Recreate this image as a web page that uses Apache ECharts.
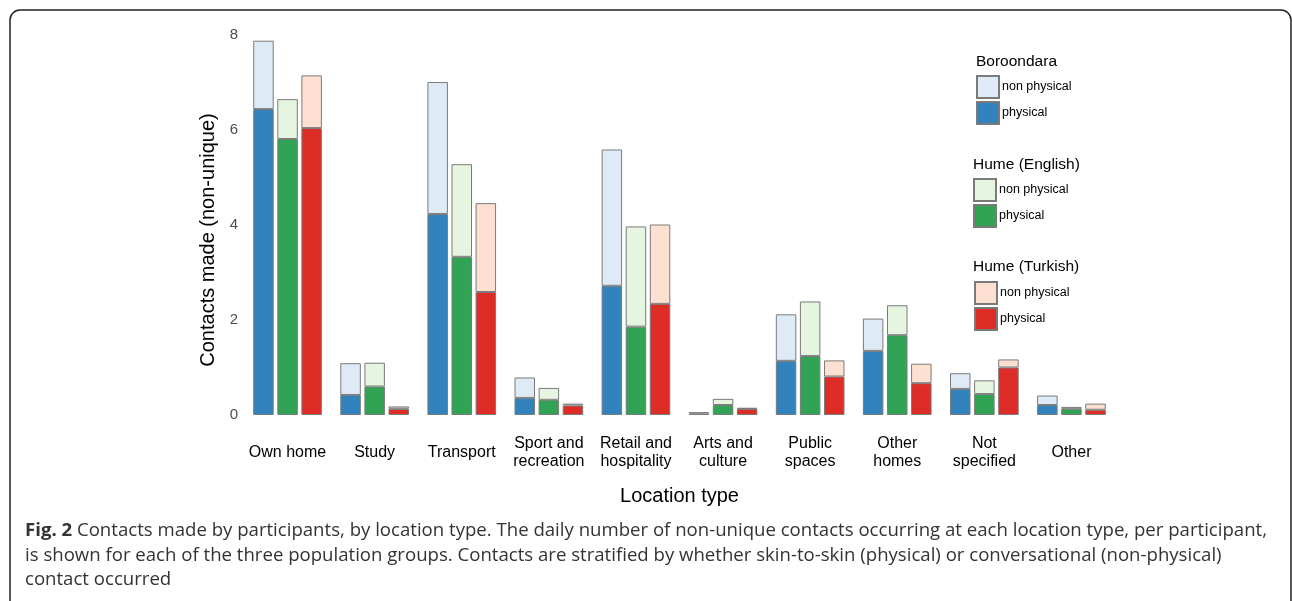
<!DOCTYPE html>
<html>
<head>
<meta charset="utf-8">
<script src="https://cdn.jsdelivr.net/npm/echarts@6/dist/echarts.min.js"></script>
<style>
html,body{margin:0;padding:0;background:#fff;}
#chart{width:1292px;height:601px;}
</style>
</head>
<body>
<div id="chart"></div>
<script>
// ---- data ----
const categories = ['Own home', 'Study', 'Transport', 'Sport and\nrecreation', 'Retail and\nhospitality',
  'Arts and\nculture', 'Public\nspaces', 'Other\nhomes', 'Not\nspecified', 'Other'];
const yTicks = [0, 2, 4, 6, 8];

const boroondaraPhysical    = [6.44, 0.42, 4.23, 0.36, 2.72, 0.03, 1.14, 1.35, 0.55, 0.21];
const boroondaraNonPhysical = [1.44, 0.67, 2.78, 0.43, 2.87, 0.03, 0.98, 0.68, 0.33, 0.20];
const englishPhysical       = [5.81, 0.60, 3.33, 0.32, 1.86, 0.21, 1.24, 1.68, 0.44, 0.13];
const englishNonPhysical    = [0.84, 0.50, 1.95, 0.25, 2.11, 0.13, 1.15, 0.63, 0.29, 0.04];
const turkishPhysical       = [6.04, 0.13, 2.59, 0.20, 2.34, 0.13, 0.81, 0.67, 1.00, 0.11];
const turkishNonPhysical    = [1.11, 0.05, 1.87, 0.04, 1.67, 0.02, 0.34, 0.41, 0.17, 0.13];

const groups = [
  {name: 'Boroondara', key: 'B', phys: boroondaraPhysical, non: boroondaraNonPhysical, cPhys: '#3182bd', cNon: '#deebf7'},
  {name: 'Hume (English)', key: 'E', phys: englishPhysical, non: englishNonPhysical, cPhys: '#31a354', cNon: '#e5f5e0'},
  {name: 'Hume (Turkish)', key: 'T', phys: turkishPhysical, non: turkishNonPhysical, cPhys: '#de2d26', cNon: '#fee0d2'}
];

const captionLines = [
  '{b|Fig. 2} Contacts made by participants, by location type. The daily number of non-unique contacts occurring at each location type, per participant,',
  'is shown for each of the three population groups. Contacts are stratified by whether skin-to-skin (physical) or conversational (non-physical)',
  'contact occurred'
];

// ---- build ----
const FONT = '"Liberation Sans", Arial, Helvetica, sans-serif';
const CAP_FONT = '"Open Sans", sans-serif';
const series = [];
groups.forEach(g => {
  series.push({
    name: g.name + ' physical', type: 'bar', stack: g.key, data: g.phys,
    barWidth: 20.5, barGap: '17.5%',
    itemStyle: {color: g.cPhys, borderColor: '#7a7a7a', borderWidth: 1},
    emphasis: {disabled: true}
  });
  series.push({
    name: g.name + ' non physical', type: 'bar', stack: g.key, data: g.non,
    barWidth: 20.5, barGap: '17.5%',
    itemStyle: {color: g.cNon, borderColor: '#7a7a7a', borderWidth: 1},
    emphasis: {disabled: true}
  });
});

const legendTops = [75, 178, 281];
const legendLefts = [976, 973, 974];
const titleTops = [54, 157, 259];
const titleLefts = [976, 973, 973];

const legends = groups.map((g, i) => ({
  orient: 'vertical', left: legendLefts[i], top: legendTops[i], padding: 0,
  itemWidth: 22, itemHeight: 22, itemGap: 2, icon: 'rect', selectedMode: false,
  data: [g.name + ' non physical', g.name + ' physical'],
  formatter: n => n.replace(g.name + ' ', ''),
  textStyle: {fontSize: 12.5, color: '#000', fontFamily: FONT, padding: [0, 0, 0, -2]}
}));
const titles = groups.map((g, i) => ({
  text: g.name, left: titleLefts[i], top: titleTops[i], padding: 0,
  textStyle: {fontSize: 15.5, fontWeight: 'normal', color: '#000', fontFamily: FONT}
}));

const chart = echarts.init(document.getElementById('chart'), null, {renderer: 'canvas'});
chart.setOption({
  animation: false,
  backgroundColor: '#fff',
  title: titles,
  legend: legends,
  grid: {left: 244, top: 35, width: 871, height: 380, containLabel: false},
  xAxis: {
    type: 'category', data: categories,
    axisLine: {show: false}, axisTick: {show: false}, splitLine: {show: false},
    axisLabel: {interval: 0, color: '#000', fontSize: 16, fontFamily: FONT, lineHeight: 18,
      verticalAlign: 'middle', margin: 38},
    name: 'Location type', nameLocation: 'middle', nameGap: 71,
    nameTextStyle: {fontSize: 20, color: '#000', fontFamily: FONT}
  },
  yAxis: {
    type: 'value', min: yTicks[0], max: yTicks[yTicks.length - 1], interval: 2,
    axisLine: {show: false}, axisTick: {show: false}, splitLine: {show: false},
    axisLabel: {color: '#4d4d4d', fontSize: 15, fontFamily: FONT, margin: 6},
    name: 'Contacts made (non-unique)', nameLocation: 'middle', nameRotate: 90, nameGap: 18,
    nameTextStyle: {fontSize: 20, color: '#000', fontFamily: FONT, padding: [0, 30, 0, 0]}
  },
  series: series,
  graphic: [
    {type: 'rect', silent: true, z: 100,
      shape: {x: 10, y: 10, width: 1281, height: 700, r: 10},
      style: {fill: 'none', stroke: '#222', lineWidth: 1.5}}
  ].concat(captionLines.map((t, i) => ({
    type: 'text', silent: true, x: 25, y: 531 + i * 24.5,
    style: {
      text: t, fill: '#333', font: '18.6px ' + CAP_FONT, verticalAlign: 'middle',
      rich: {b: {fontWeight: 'bold', fontSize: 18.6, fontFamily: CAP_FONT, fill: '#333'}}
    }
  })))
});
</script>
</body>
</html>
